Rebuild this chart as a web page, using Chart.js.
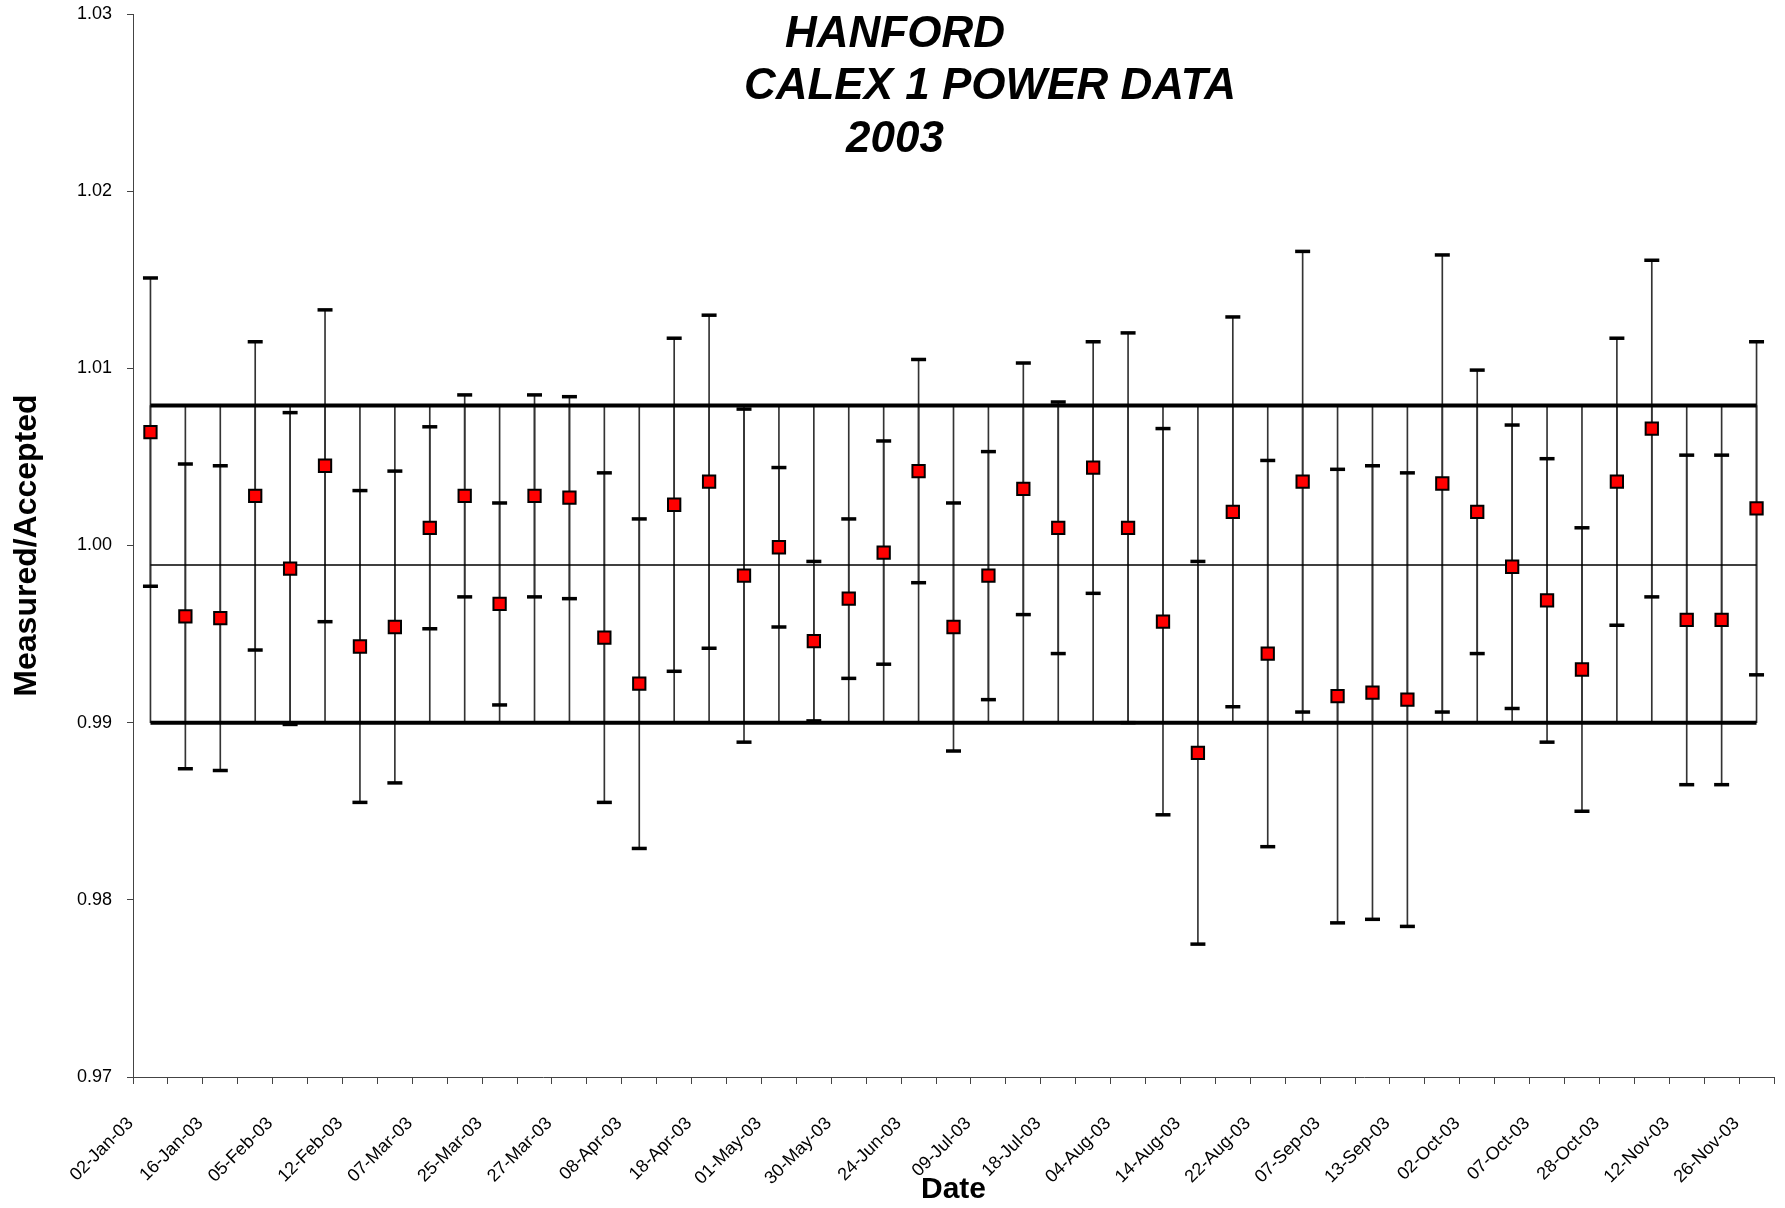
<!DOCTYPE html>
<html>
<head>
<meta charset="utf-8">
<script src="https://cdn.jsdelivr.net/npm/chart.js@4.4.1/dist/chart.umd.min.js"></script>
<style>
  html, body { margin: 0; padding: 0; background: #fff; }
  #wrap { width: 1785px; height: 1208px; position: relative; }
</style>
</head>
<body>
<div id="wrap"><canvas id="chart"></canvas></div>
<script>
// measurement dates, only every second one is labelled on the axis
const dates = [
  '02-Jan-03', '09-Jan-03', '16-Jan-03', '29-Jan-03', '05-Feb-03', '07-Feb-03',
  '12-Feb-03', '20-Feb-03', '07-Mar-03', '18-Mar-03', '25-Mar-03', '26-Mar-03',
  '27-Mar-03', '02-Apr-03', '08-Apr-03', '10-Apr-03', '18-Apr-03', '24-Apr-03',
  '01-May-03', '15-May-03', '30-May-03', '10-Jun-03', '24-Jun-03', '02-Jul-03',
  '09-Jul-03', '14-Jul-03', '18-Jul-03', '24-Jul-03', '04-Aug-03', '08-Aug-03',
  '14-Aug-03', '18-Aug-03', '22-Aug-03', '29-Aug-03', '07-Sep-03', '10-Sep-03',
  '13-Sep-03', '23-Sep-03', '02-Oct-03', '03-Oct-03', '07-Oct-03', '15-Oct-03',
  '28-Oct-03', '05-Nov-03', '12-Nov-03', '19-Nov-03', '26-Nov-03'
];

// measured / accepted power ratio
const ratio = [
  1.0064, 0.9960, 0.9959, 1.0028, 0.9987, 1.0045, 0.9943, 0.9954,
  1.0010, 1.0028, 0.9967, 1.0028, 1.0027, 0.9948, 0.9922, 1.0023,
  1.0036, 0.9983, 0.9999, 0.9946, 0.9970, 0.9996, 1.0042, 0.9954,
  0.9983, 1.0032, 1.0010, 1.0044, 1.0010, 0.9957, 0.9883, 1.0019,
  0.9939, 1.0036, 0.9915, 0.9917, 0.9913, 1.0035, 1.0019, 0.9988,
  0.9969, 0.9930, 1.0036, 1.0066, 0.9958, 0.9958, 1.0021
];

// +/- uncertainty on each ratio
const uncertainty = [
  0.0087, 0.0086, 0.0086, 0.0087, 0.0088, 0.0088, 0.0088, 0.0088,
  0.0057, 0.0057, 0.0057, 0.0057, 0.0057, 0.0093, 0.0093, 0.0094,
  0.0094, 0.0094, 0.0045, 0.0045, 0.0045, 0.0063, 0.0063, 0.0070,
  0.0070, 0.0071, 0.0071, 0.0071, 0.0110, 0.0109, 0.0108, 0.0110,
  0.0109, 0.0130, 0.0128, 0.0128, 0.0128, 0.0129, 0.0080, 0.0080,
  0.0080, 0.0080, 0.0081, 0.0095, 0.0093, 0.0093, 0.0094
];

const upperLimit = 1.0079;
const meanRatio = 0.9989;
const lowerLimit = 0.9900;

const yMin = 0.97;
const yMax = 1.03;
const yStep = 0.01;

const titleLines = ['HANFORD', 'CALEX 1 POWER DATA', '2003'];

const FONT = '"Liberation Sans", Arial, sans-serif';
const INK = '#000';
const AXIS = '#444';

// the title sits inside the plot area, so it is painted on top
const overlayTitle = {
  id: 'overlayTitle',
  afterDraw(chart) {
    const ctx = chart.ctx;
    const spots = [[895, 47], [990, 99], [895, 152]];
    ctx.save();
    ctx.font = 'italic bold 44px ' + FONT;
    ctx.fillStyle = INK;
    ctx.textAlign = 'center';
    ctx.textBaseline = 'alphabetic';
    titleLines.forEach((t, i) => ctx.fillText(t, spots[i][0], spots[i][1]));
    ctx.restore();
  }
};

const flat = v => dates.map(() => v);

const data = {
  labels: dates,
  datasets: [
    {
      // high-low lines between the two limits
      type: 'bar',
      data: flat([lowerLimit, upperLimit]),
      backgroundColor: '#333',
      barThickness: 1,
      grouped: false,
      order: 10,
    },
    {
      // error bar stems
      type: 'bar',
      data: ratio.map((v, i) => [v - uncertainty[i], v + uncertainty[i]]),
      backgroundColor: '#333',
      barThickness: 1,
      grouped: false,
      order: 9,
    },
    {
      type: 'line',
      data: flat(upperLimit),
      borderColor: INK,
      borderWidth: 4,
      pointRadius: 0,
      order: 6,
    },
    {
      type: 'line',
      data: flat(meanRatio),
      borderColor: INK,
      borderWidth: 1.5,
      pointRadius: 0,
      order: 6,
    },
    {
      type: 'line',
      data: flat(lowerLimit),
      borderColor: INK,
      borderWidth: 4,
      pointRadius: 0,
      order: 6,
    },
    {
      // error bar caps
      type: 'line',
      data: ratio.map((v, i) => v + uncertainty[i]),
      showLine: false,
      pointStyle: 'line',
      pointRadius: 7.5,
      pointBorderWidth: 3.5,
      pointBorderColor: INK,
      order: 3,
    },
    {
      type: 'line',
      data: ratio.map((v, i) => v - uncertainty[i]),
      showLine: false,
      pointStyle: 'line',
      pointRadius: 7.5,
      pointBorderWidth: 3.5,
      pointBorderColor: INK,
      order: 3,
    },
    {
      type: 'line',
      data: ratio,
      showLine: false,
      pointStyle: 'rect',
      pointRadius: 8.7,
      pointBackgroundColor: '#ff0000',
      pointBorderColor: INK,
      pointBorderWidth: 2,
      order: 0,
    },
  ],
};

const config = {
  type: 'bar',
  data: data,
  options: {
    responsive: true,
    maintainAspectRatio: false,
    animation: false,
    layout: { padding: { top: 14, right: 8, left: 0, bottom: 0 } },
    plugins: {
      legend: { display: false },
      tooltip: { enabled: false },
      title: { display: false },
    },
    scales: {
      x: {
        type: 'category',
        offset: true,
        grid: { offset: true, drawOnChartArea: false, tickLength: 7, color: AXIS },
        border: { color: AXIS, width: 1 },
        ticks: {
          autoSkip: false,
          minRotation: 45,
          maxRotation: 45,
          labelOffset: -20,
          padding: 29,
          color: INK,
          font: { family: FONT, size: 18 },
          callback: function (value, index) {
            return index % 2 === 0 ? this.getLabelForValue(value) : '';
          },
        },
        title: {
          display: true,
          text: 'Date',
          color: INK,
          font: { family: FONT, size: 30, weight: 'bold' },
          padding: 0,
        },
        afterFit(scale) {
          scale.height = 131;
          scale.paddingLeft = 0;
          scale.paddingRight = 0;
        },
      },
      y: {
        min: yMin,
        max: yMax,
        grid: { drawOnChartArea: false, tickLength: 6, color: AXIS },
        border: { color: AXIS, width: 1 },
        ticks: {
          stepSize: yStep,
          padding: 15,
          color: INK,
          font: { family: FONT, size: 18 },
          callback: v => v.toFixed(2),
        },
        title: {
          display: true,
          text: 'Measured/Accepted',
          color: INK,
          font: { family: FONT, size: 32, weight: 'bold' },
          padding: { top: 8, bottom: 0 },
        },
        afterFit(scale) {
          scale.width = 133;
          scale.paddingTop = 0;
          scale.paddingBottom = 0;
        },
      },
    },
  },
  plugins: [overlayTitle],
};

new Chart(document.getElementById('chart'), config);
</script>
</body>
</html>
